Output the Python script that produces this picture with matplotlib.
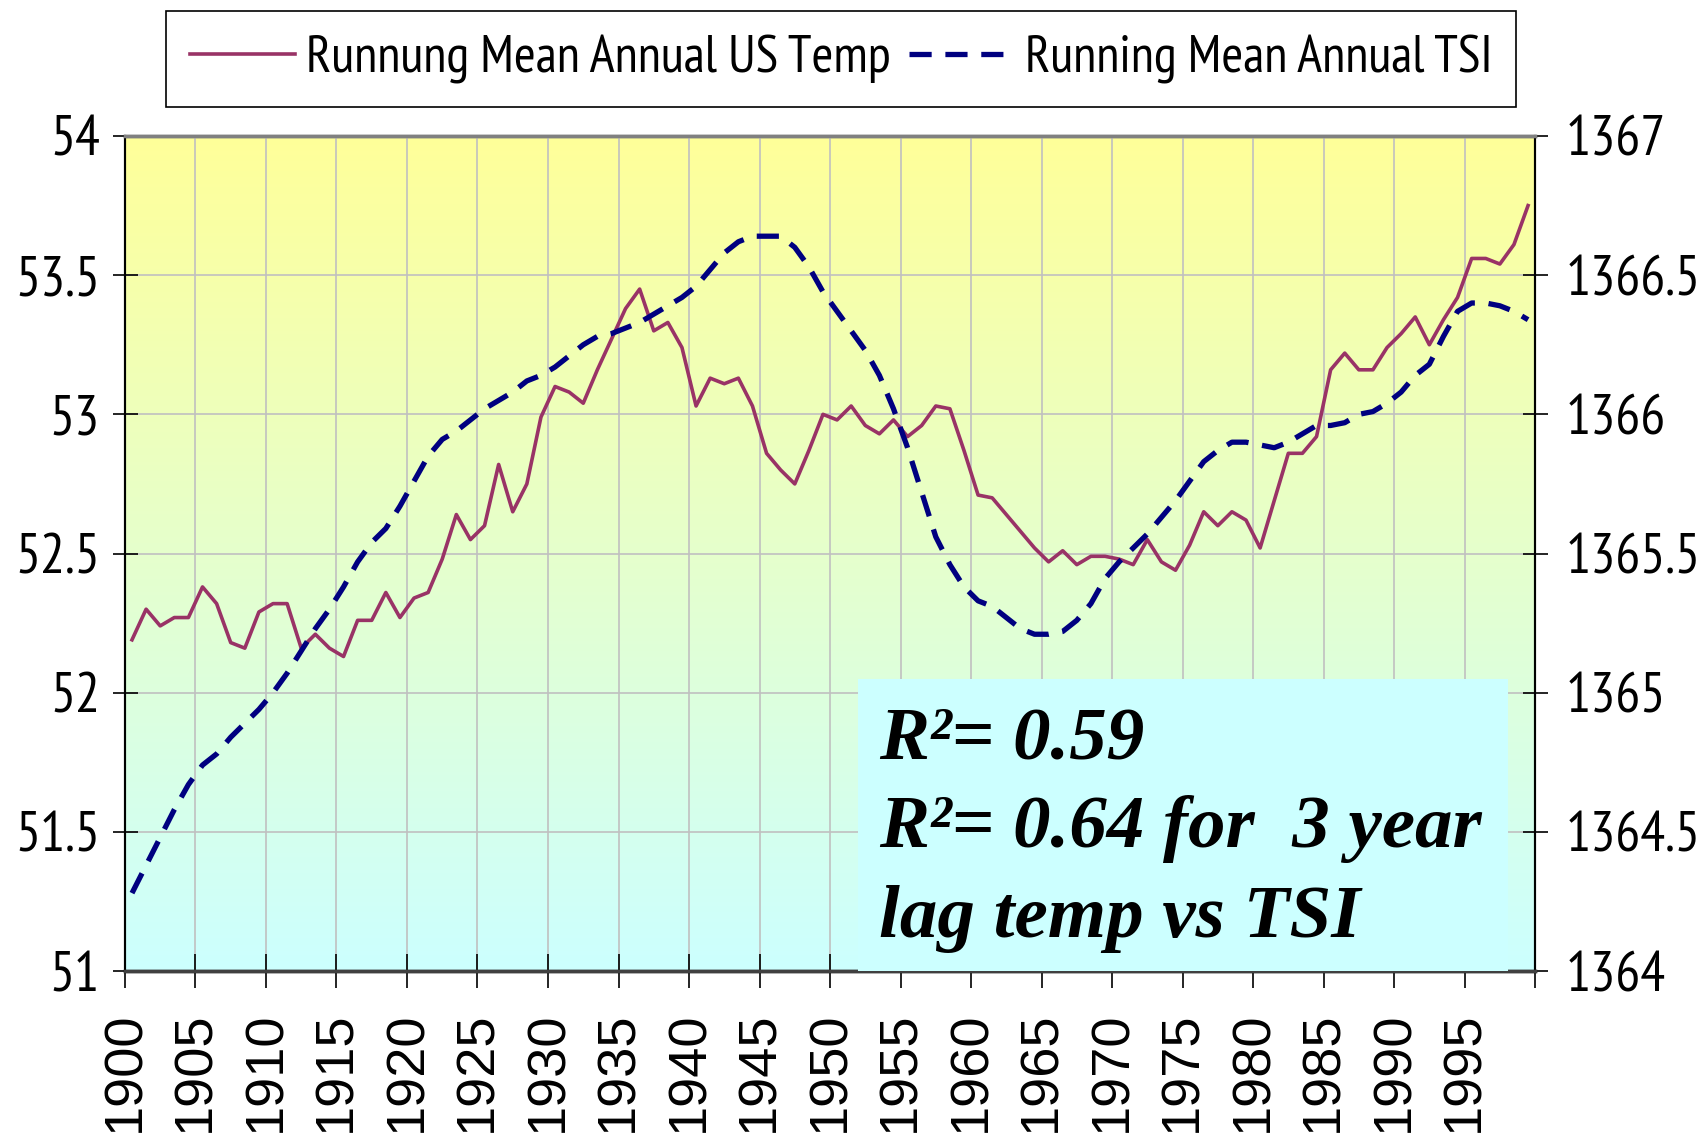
import numpy as np
import matplotlib
matplotlib.use("Agg")
import matplotlib.pyplot as plt
from matplotlib.patches import Rectangle

# Years on the category axis
years = list(range(1900, 2000))

# Running mean annual US temperature (deg F), left axis
us_temp = [
    52.19, 52.30, 52.24, 52.27, 52.27, 52.38, 52.32, 52.18, 52.16, 52.29,
    52.32, 52.32, 52.16, 52.21, 52.16, 52.13, 52.26, 52.26, 52.36, 52.27,
    52.34, 52.36, 52.48, 52.64, 52.55, 52.60, 52.82, 52.65, 52.75, 52.99,
    53.10, 53.08, 53.04, 53.16, 53.27, 53.38, 53.45, 53.30, 53.33, 53.24,
    53.03, 53.13, 53.11, 53.13, 53.03, 52.86, 52.80, 52.75, 52.87, 53.00,
    52.98, 53.03, 52.96, 52.93, 52.98, 52.92, 52.96, 53.03, 53.02, 52.87,
    52.71, 52.70, 52.64, 52.58, 52.52, 52.47, 52.51, 52.46, 52.49, 52.49,
    52.48, 52.46, 52.55, 52.47, 52.44, 52.53, 52.65, 52.60, 52.65, 52.62,
    52.52, 52.69, 52.86, 52.86, 52.92, 53.16, 53.22, 53.16, 53.16, 53.24,
    53.29, 53.35, 53.25, 53.34, 53.42, 53.56, 53.56, 53.54, 53.61, 53.75,
]

# Running mean annual TSI (W/m2), right axis
tsi = [
    1364.28, 1364.38, 1364.48, 1364.58, 1364.67, 1364.74, 1364.78, 1364.84, 1364.89, 1364.94,
    1365.00, 1365.07, 1365.15, 1365.23, 1365.30, 1365.38, 1365.47, 1365.54, 1365.59, 1365.67,
    1365.76, 1365.85, 1365.91, 1365.94, 1365.98, 1366.02, 1366.05, 1366.08, 1366.12, 1366.14,
    1366.17, 1366.21, 1366.25, 1366.28, 1366.29, 1366.31, 1366.33, 1366.36, 1366.39, 1366.42,
    1366.46, 1366.52, 1366.58, 1366.62, 1366.64, 1366.64, 1366.64, 1366.60, 1366.53, 1366.44,
    1366.37, 1366.30, 1366.23, 1366.14, 1366.02, 1365.88, 1365.72, 1365.56, 1365.46, 1365.38,
    1365.33, 1365.31, 1365.27, 1365.23, 1365.21, 1365.21, 1365.22, 1365.26, 1365.32, 1365.41,
    1365.47, 1365.52, 1365.57, 1365.63, 1365.69, 1365.76, 1365.83, 1365.87, 1365.90, 1365.90,
    1365.89, 1365.88, 1365.90, 1365.93, 1365.96, 1365.96, 1365.97, 1366.00, 1366.01, 1366.04,
    1366.08, 1366.14, 1366.18, 1366.28, 1366.37, 1366.40, 1366.40, 1366.39, 1366.37, 1366.34,
]

temp_ticks = [51, 51.5, 52, 52.5, 53, 53.5, 54]
temp_tick_labels = ["51", "51.5", "52", "52.5", "53", "53.5", "54"]
tsi_ticks = [1364, 1364.5, 1365, 1365.5, 1366, 1366.5, 1367]
tsi_tick_labels = ["1364", "1364.5", "1365", "1365.5", "1366", "1366.5", "1367"]

legend_labels = ["Runnung Mean Annual US Temp", "Running Mean Annual TSI"]
note_lines = ["R\u00b2= 0.59", "R\u00b2= 0.64 for  3 year", "lag temp vs TSI"]

TEMP_COLOR = "#993366"
TSI_COLOR = "#000080"
GRID_COLOR = "#C0C0C0"
NARROW = ["PT Sans Narrow", "Roboto Condensed", "Liberation Sans", "DejaVu Sans"]
SANS = ["Liberation Sans", "DejaVu Sans"]
SERIF = ["Liberation Serif", "DejaVu Serif"]

fig = plt.figure(figsize=(17.07, 11.38), dpi=100, facecolor="white")
ax = fig.add_axes([0.0732, 0.1467, 0.8261, 0.7338])
ax2 = ax.twinx()

x = np.arange(len(years))

# Yellow-to-cyan gradient plot area
grad = np.linspace(0, 1, 256)[:, None]
top = np.array([255, 255, 153]) / 255
bottom = np.array([204, 255, 255]) / 255
img = top[None, None, :] * (1 - grad[:, :, None]) + bottom[None, None, :] * grad[:, :, None]
ax.imshow(img, extent=[0, 1, 0, 1], transform=ax.transAxes, aspect="auto", zorder=0)

ax.set_xlim(-0.5, len(years) - 0.5)
ax.set_ylim(51, 54)
ax2.set_ylim(1364, 1367)

xtick_pos = np.arange(-0.5, len(years), 5)
xtick_labels = [str(y) for y in years[::5]] + [""]
ax.set_xticks(xtick_pos)
ax.set_xticklabels(xtick_labels, rotation=90, fontsize=39, family=SANS)

ax.set_yticks(temp_ticks)
ax.set_yticklabels(temp_tick_labels, fontsize=40, family=NARROW)
ax2.set_yticks(tsi_ticks)
ax2.set_yticklabels(tsi_tick_labels, fontsize=40, family=NARROW)

ax.grid(True, color=GRID_COLOR, linewidth=1.2, zorder=1)
ax.set_axisbelow(False)

ax.tick_params(axis="x", direction="inout", length=24, width=1.2, pad=17)
ax.tick_params(axis="y", direction="inout", length=18, width=1.2, pad=9)
ax2.tick_params(axis="y", direction="inout", length=18, width=1.2, pad=13)

(l1,) = ax.plot(x, us_temp, color=TEMP_COLOR, linewidth=2.6, zorder=3,
                label=legend_labels[0])
(l2,) = ax2.plot(x, tsi, color=TSI_COLOR, linewidth=3.8, dashes=(4.2, 2.6),
                 zorder=3, label=legend_labels[1])

for a in (ax, ax2):
    a.spines["top"].set_color("#808080")
    a.spines["top"].set_linewidth(2.5)
    a.spines["bottom"].set_color("#404040")
    a.spines["bottom"].set_linewidth(2.5)
    a.spines["left"].set_color("black")
    a.spines["left"].set_linewidth(1.5)
    a.spines["right"].set_color("black")
    a.spines["right"].set_linewidth(1.5)

# Annotation box
ax2.add_patch(Rectangle((0.52, 0.0), 0.461, 0.35, transform=ax2.transAxes,
                        facecolor="#CCFFFF", edgecolor="none", zorder=4))
for i, line in enumerate(note_lines):
    ax2.text(0.535, 0.255 - i * 0.107, line, transform=ax2.transAxes,
             fontsize=54, fontweight="bold", fontstyle="italic", family=SERIF,
             color="black", ha="left", va="baseline", zorder=5)

leg = fig.legend([l1, l2], legend_labels, loc="center", bbox_to_anchor=(0.4927, 0.948),
                 ncol=2, prop={"family": NARROW, "size": 38}, frameon=True,
                 fancybox=False, edgecolor="black", framealpha=1, handlelength=2.0,
                 handletextpad=0.2, columnspacing=0.35, borderpad=0.45,
                 borderaxespad=0)
leg.get_frame().set_linewidth(1.2)

fig.savefig("out.png", dpi=100, facecolor="white")
